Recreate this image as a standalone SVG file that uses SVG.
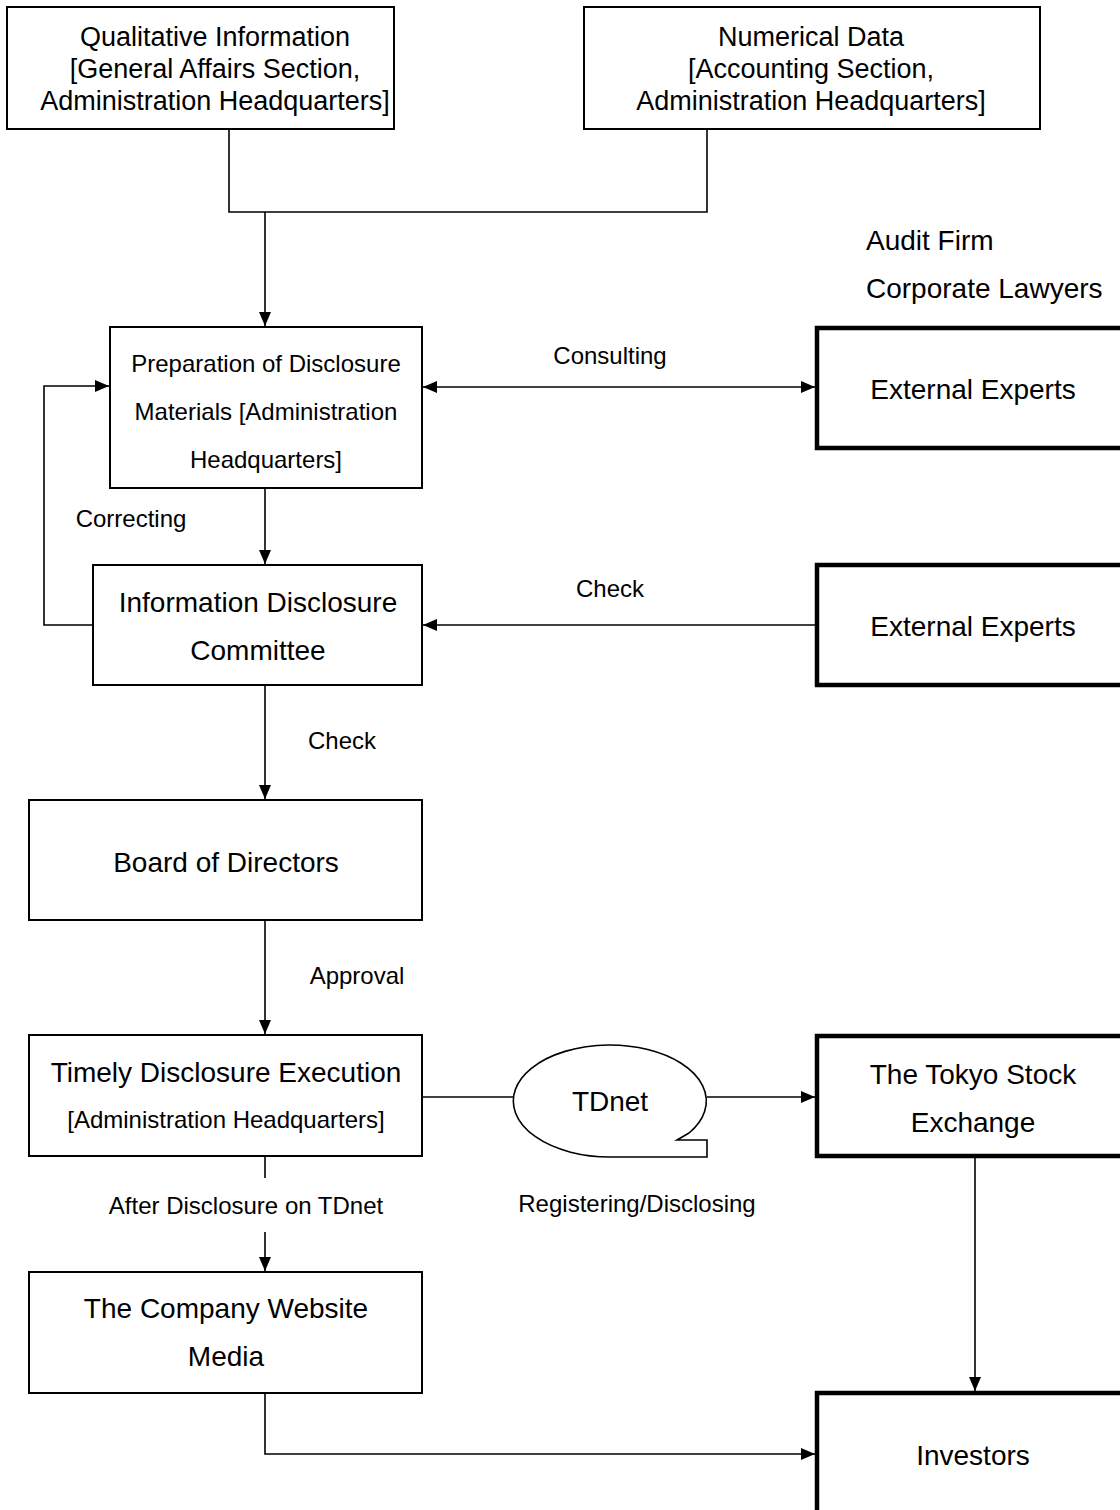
<svg xmlns="http://www.w3.org/2000/svg" width="1120" height="1510" viewBox="0 0 1120 1510">
<style>
.box{fill:#fff;stroke:#000;stroke-width:2}
.thick{fill:#fff;stroke:#000;stroke-width:4.5}
.ln{fill:none;stroke:#000;stroke-width:1.6}
text{font-family:"Liberation Sans",Arial,sans-serif;fill:#000;text-anchor:middle}
.t24{font-size:28px}
.t27{font-size:27px}
.t20{font-size:24px}
</style>
<defs>
<marker id="ah" viewBox="0 0 14 12" refX="14" refY="6" markerWidth="14" markerHeight="12" markerUnits="userSpaceOnUse" orient="auto-start-reverse">
<path d="M0,0 L14,6 L0,12 z" fill="#000"/>
</marker>
</defs>
<rect width="1120" height="1510" fill="#fff"/>
<g id="connectors">
<path class="ln" d="M229,129 V212 H707 V129"/>
<path class="ln" d="M265,212 V326" marker-end="url(#ah)"/>
<path class="ln" d="M423,387 H815" marker-start="url(#ah)" marker-end="url(#ah)"/>
<path class="ln" d="M265,488 V564" marker-end="url(#ah)"/>
<path class="ln" d="M93,625 H44 V386 H109" marker-end="url(#ah)"/>
<path class="ln" d="M815,625 H423" marker-end="url(#ah)"/>
<path class="ln" d="M265,685 V799" marker-end="url(#ah)"/>
<path class="ln" d="M265,920 V1034" marker-end="url(#ah)"/>
<path class="ln" d="M422,1097 H514"/>
<path class="ln" d="M707,1097 H815" marker-end="url(#ah)"/>
<path class="ln" d="M265,1156 V1178"/>
<path class="ln" d="M265,1232 V1271" marker-end="url(#ah)"/>
<path class="ln" d="M975,1157 V1391" marker-end="url(#ah)"/>
<path class="ln" d="M265,1393 V1454 H815" marker-end="url(#ah)"/>
<text class="t20" x="610" y="364">Consulting</text>
<text class="t20" x="131" y="527">Correcting</text>
<text class="t20" x="610" y="597">Check</text>
<text class="t20" x="342" y="749">Check</text>
<text class="t20" x="357" y="984">Approval</text>
<text class="t20" x="637" y="1212">Registering/Disclosing</text>
<text class="t20" x="246" y="1214">After Disclosure on TDnet</text>
</g>
<g id="qualitative">
<rect class="box" x="7" y="7" width="387" height="122"/>
<text class="t27" x="215" y="46">Qualitative Information</text>
<text class="t27" x="215" y="78">[General Affairs Section,</text>
<text class="t27" x="215" y="110">Administration Headquarters]</text>
</g>
<g id="numerical">
<rect class="box" x="584" y="7" width="456" height="122"/>
<text class="t27" x="811" y="46">Numerical Data</text>
<text class="t27" x="811" y="78">[Accounting Section,</text>
<text class="t27" x="811" y="110">Administration Headquarters]</text>
</g>
<g id="audit-labels">
<text class="t24" x="866" y="250" style="text-anchor:start">Audit Firm</text>
<text class="t24" x="866" y="298" style="text-anchor:start">Corporate Lawyers</text>
</g>
<g id="preparation">
<rect class="box" x="110" y="327" width="312" height="161"/>
<text class="t20" x="266" y="372">Preparation of Disclosure</text>
<text class="t20" x="266" y="420">Materials [Administration</text>
<text class="t20" x="266" y="468">Headquarters]</text>
</g>
<g id="external-experts-1">
<rect class="thick" x="817" y="328" width="310" height="120"/>
<text class="t24" x="973" y="399">External Experts</text>
</g>
<g id="committee">
<rect class="box" x="93" y="565" width="329" height="120"/>
<text class="t24" x="258" y="612">Information Disclosure</text>
<text class="t24" x="258" y="660">Committee</text>
</g>
<g id="external-experts-2">
<rect class="thick" x="817" y="565" width="310" height="120"/>
<text class="t24" x="973" y="636">External Experts</text>
</g>
<g id="board">
<rect class="box" x="29" y="800" width="393" height="120"/>
<text class="t24" x="226" y="872">Board of Directors</text>
</g>
<g id="timely">
<rect class="box" x="29" y="1035" width="393" height="121"/>
<text class="t24" x="226" y="1082">Timely Disclosure Execution</text>
<text class="t20" x="226" y="1128">[Administration Headquarters]</text>
</g>
<g id="tdnet">
<path class="ln" d="M677,1140 H707 V1157 H610 A96.5,56 0 1 1 689,1133 Z" style="fill:#fff"/>
<text class="t24" x="610" y="1111">TDnet</text>
</g>
<g id="tokyo">
<rect class="thick" x="817" y="1036" width="310" height="120"/>
<text class="t24" x="973" y="1084">The Tokyo Stock</text>
<text class="t24" x="973" y="1132">Exchange</text>
</g>
<g id="website">
<rect class="box" x="29" y="1272" width="393" height="121"/>
<text class="t24" x="226" y="1318">The Company Website</text>
<text class="t24" x="226" y="1366">Media</text>
</g>
<g id="investors">
<rect class="thick" x="817" y="1393" width="310" height="130"/>
<text class="t24" x="973" y="1465">Investors</text>
</g>
</svg>
